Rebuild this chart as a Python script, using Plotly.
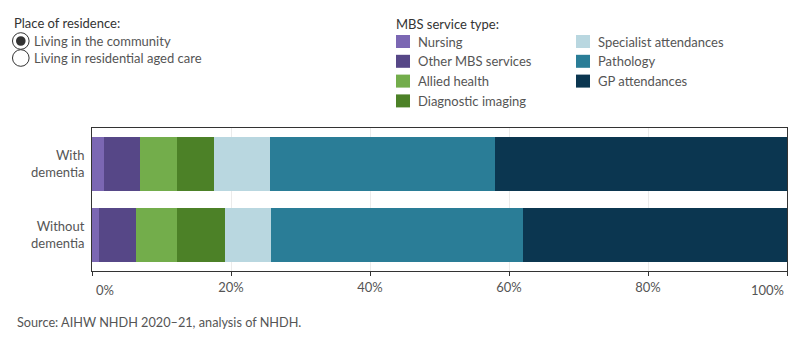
import plotly.graph_objects as go

categories = ["With<br>dementia", "Without<br>dementia"]
service_types = ["Nursing", "Other MBS services", "Allied health", "Diagnostic imaging",
                 "Specialist attendances", "Pathology", "GP attendances"]
nursing = [1.7, 1.0]
other_mbs = [5.2, 5.4]
allied_health = [5.3, 5.9]
diagnostic_imaging = [5.3, 6.8]
specialist = [8.1, 6.6]
pathology = [32.4, 36.3]
gp = [42.0, 38.0]
series = [nursing, other_mbs, allied_health, diagnostic_imaging, specialist, pathology, gp]
colors = ["#7B67B3", "#564787", "#73AD4B", "#4C8127", "#B9D7E0", "#2A7D97", "#0B3650"]
tick_vals = [0, 20, 40, 60, 80, 100]
tick_labels = ["0%", "20%", "40%", "60%", "80%", "100%"]
residence_options = ["Living in the community", "Living in residential aged care"]

FONT = "Lato"
ML, MR, MT, MB = 92, 13, 128, 79
W, H = 800, 350
PW, PH = W - ML - MR, H - MT - MB


def px(x):
    return (x - ML) / PW


def py(y):
    return (H - MB - y) / PH


fig = go.Figure()
for name, vals, col in zip(service_types, series, colors):
    fig.add_trace(go.Bar(
        y=categories, x=vals, name=name, orientation="h",
        marker=dict(color=col, line=dict(width=0)),
        hovertemplate="%{y}: %{x:.1f}%<extra>" + name + "</extra>",
    ))

shapes = []
annotations = []

# Place of residence control
annotations.append(dict(text="Place of residence:", x=px(12), y=py(23), xref="paper", yref="paper",
                        xanchor="left", yanchor="middle", showarrow=False,
                        font=dict(family=FONT, size=13, color="#333333")))
radio_y = [41, 58]
for i, (label, cy) in enumerate(zip(residence_options, radio_y)):
    r = 8.3
    shapes.append(dict(type="circle", xref="paper", yref="paper",
                       x0=px(20.8 - r), x1=px(20.8 + r), y0=py(cy + r), y1=py(cy - r),
                       line=dict(color="#333333", width=1), fillcolor="white"))
    if i == 0:
        ri = 4.8
        shapes.append(dict(type="circle", xref="paper", yref="paper",
                           x0=px(20.8 - ri), x1=px(20.8 + ri), y0=py(cy + ri), y1=py(cy - ri),
                           line=dict(color="#333333", width=0), fillcolor="#333333"))
    annotations.append(dict(text=label, x=px(32), y=py(cy), xref="paper", yref="paper",
                            xanchor="left", yanchor="middle", showarrow=False,
                            font=dict(family=FONT, size=13, color="#555555")))

# MBS service type legend
annotations.append(dict(text="MBS service type:", x=px(394), y=py(24), xref="paper", yref="paper",
                        xanchor="left", yanchor="middle", showarrow=False,
                        font=dict(family=FONT, size=13, color="#333333")))
for i, (name, col) in enumerate(zip(service_types, colors)):
    colx = 396 if i < 4 else 576
    row = i if i < 4 else i - 4
    cy = 41.5 + row * 19.8
    shapes.append(dict(type="rect", xref="paper", yref="paper",
                       x0=px(colx), x1=px(colx + 14), y0=py(cy + 6.5), y1=py(cy - 6.5),
                       line=dict(width=0), fillcolor=col))
    annotations.append(dict(text=name, x=px(colx + 19.5), y=py(cy), xref="paper", yref="paper",
                            xanchor="left", yanchor="middle", showarrow=False,
                            font=dict(family=FONT, size=13, color="#555555")))

# end tick labels shifted inward
annotations.append(dict(text=tick_labels[0], x=tick_vals[0], y=py(290), xref="x", yref="paper",
                        xanchor="left", yanchor="middle", showarrow=False, xshift=2,
                        font=dict(family=FONT, size=13, color="#555555")))
annotations.append(dict(text=tick_labels[-1], x=tick_vals[-1], y=py(290), xref="x", yref="paper",
                        xanchor="right", yanchor="middle", showarrow=False, xshift=-1,
                        font=dict(family=FONT, size=13, color="#555555")))

annotations.append(dict(text="Source: AIHW NHDH 2020\u201321, analysis of NHDH.", x=px(15), y=py(322),
                        xref="paper", yref="paper", xanchor="left", yanchor="middle", showarrow=False,
                        font=dict(family=FONT, size=12.7, color="#555555")))

inner_text = [""] + tick_labels[1:-1] + [""]

fig.update_layout(
    width=W, height=H,
    margin=dict(l=ML, r=MR, t=MT, b=MB, pad=0),
    barmode="stack", bargap=0.24,
    showlegend=False,
    plot_bgcolor="white", paper_bgcolor="white",
    font=dict(family=FONT, size=13, color="#555555"),
    shapes=shapes, annotations=annotations,
    xaxis=dict(range=[0, 100], tickvals=tick_vals, ticktext=inner_text,
               showgrid=True, gridcolor="#EBEBEB", gridwidth=1, zeroline=False,
               showline=True, linecolor="#333333", linewidth=1, mirror=True,
               ticks="outside", ticklen=4, tickcolor="#333333",
               tickfont=dict(family=FONT, size=13, color="#555555"), fixedrange=True),
    yaxis=dict(autorange="reversed", showgrid=False, zeroline=False,
               showline=True, linecolor="#333333", linewidth=1, mirror=True,
               ticks="", ticklabelstandoff=4,
               tickfont=dict(family=FONT, size=13, color="#555555"), fixedrange=True),
)

fig.write_html("out.html")
